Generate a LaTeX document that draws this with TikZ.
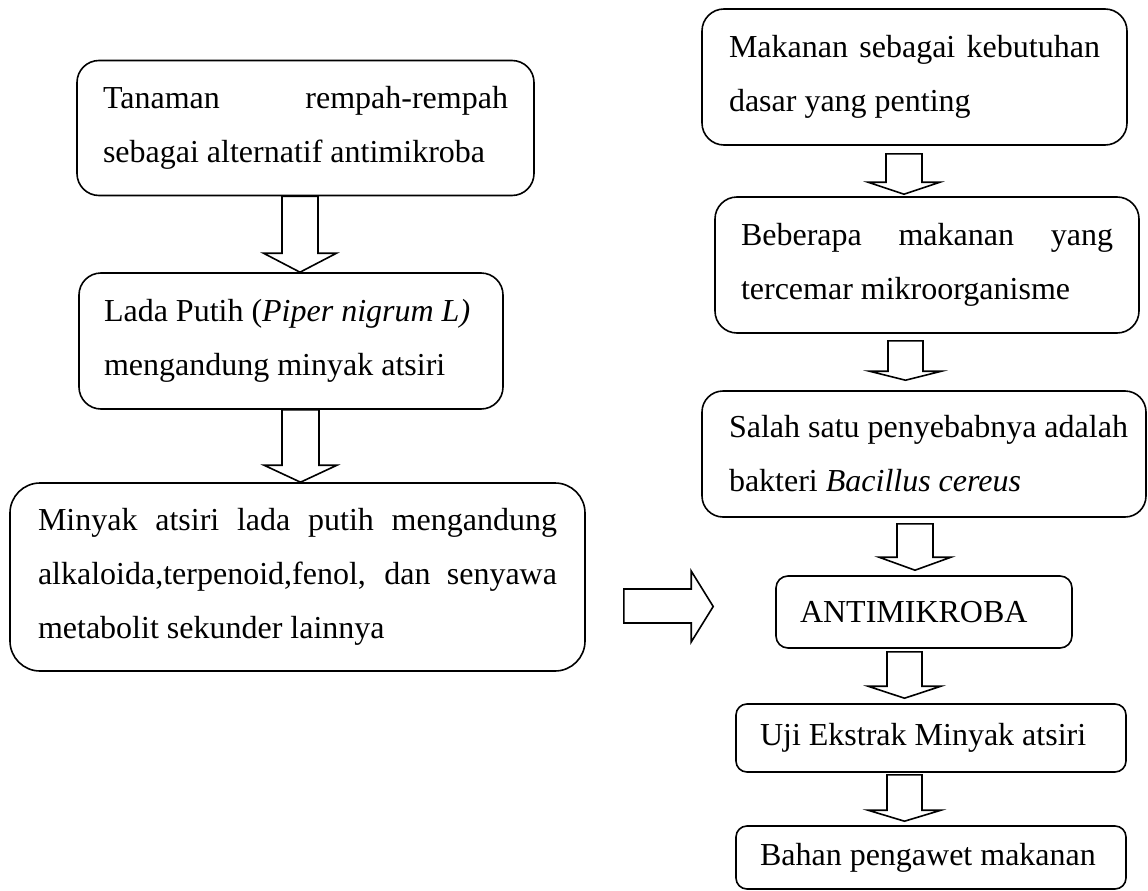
\documentclass[tikz,border=0pt]{standalone}
\usepackage{fontspec}
\setmainfont{Liberation Serif}
\usetikzlibrary{calc}
\newcommand{\jl}[2]{\makebox[#1pt][s]{#2}}
\newcommand{\nl}[2]{\makebox[#1pt][l]{#2}}
\newcommand{\downarr}[8]{%
  \draw[barrow] let \p1=(#1.south), \p2=(#2.north) in
   ({#3pt-#4pt},{\y1-#7pt}) -- ({#3pt-#4pt},{\y2+#8pt+#6pt}) --
   ({#3pt-#5pt},{\y2+#8pt+#6pt}) -- ({#3pt},{\y2+#8pt}) --
   ({#3pt+#5pt},{\y2+#8pt+#6pt}) -- ({#3pt+#4pt},{\y2+#8pt+#6pt}) --
   ({#3pt+#4pt},{\y1-#7pt}) -- cycle;}
\tikzset{
  rbox/.style={draw, line width=1.6pt, rectangle, inner ysep=0pt, align=left,
    font=\fontsize{32}{54}\selectfont},
  barrow/.style={draw, line width=1.6pt, line join=miter, fill=white}
}
\begin{document}
\begin{tikzpicture}[x=1pt,y=-1pt]
\useasboundingbox (0,0) rectangle (1148,891);
% left column
\node[rbox, minimum width=457pt, minimum height=135pt, inner xsep=26pt, rounded corners=22pt] (b1) at (305.5,128)
  {\jl{405}{Tanaman rempah-rempah}\\ \nl{405}{sebagai alternatif antimikroba}};
\node[rbox, minimum width=424pt, minimum height=136pt, inner xsep=25pt, rounded corners=22pt] (b2) at (291,341)
  {\nl{374}{Lada Putih (\textit{Piper nigrum L)}}\\ \nl{374}{mengandung minyak atsiri}};
\node[rbox, minimum width=575pt, minimum height=188pt, inner xsep=28pt, rounded corners=30pt] (b3) at (297.5,577)
  {\jl{519}{Minyak atsiri lada putih mengandung}\\ \jl{519}{alkaloida,terpenoid,fenol, dan senyawa}\\ \nl{519}{metabolit sekunder lainnya}};
% right column
\node[rbox, minimum width=425pt, minimum height=136pt, inner xsep=27pt, rounded corners=22pt] (r1) at (914.5,77)
  {\jl{371}{Makanan sebagai kebutuhan}\\ \nl{371}{dasar yang penting}};
\node[rbox, minimum width=424pt, minimum height=136pt, inner xsep=26pt, rounded corners=22pt] (r2) at (927,265)
  {\jl{372}{Beberapa makanan yang}\\ \nl{372}{tercemar mikroorganisme}};
\node[rbox, minimum width=444pt, minimum height=126pt, inner xsep=27pt, rounded corners=21pt] (r3) at (924,454)
  {\nl{390}{Salah satu penyebabnya adalah}\\ \nl{390}{bakteri \textit{Bacillus cereus}}};
\node[rbox, minimum width=296pt, minimum height=72pt, inner xsep=24pt, rounded corners=12pt] (r4) at (924,612)
  {\nl{248}{ANTIMIKROBA}};
\node[rbox, minimum width=390pt, minimum height=68pt, inner xsep=24pt, rounded corners=11pt] (r5) at (931,738)
  {\nl{342}{Uji Ekstrak Minyak atsiri}};
\node[rbox, minimum width=390pt, minimum height=63pt, inner xsep=24pt, rounded corners=11pt] (r6) at (931,857.5)
  {\nl{342}{Bahan pengawet makanan}};
% block arrows
\downarr{b1}{b2}{300}{18}{36.5}{19}{0}{0}
\downarr{b2}{b3}{300.5}{18.5}{36.5}{17}{0}{0}
\downarr{r1}{r2}{904}{18}{36}{12}{8}{2}
\downarr{r2}{r3}{905.5}{17.5}{36}{9}{7}{10}
\downarr{r3}{r4}{915}{18}{36}{13}{6}{5}
\downarr{r4}{r5}{904.5}{17.5}{36.5}{12}{3}{5}
\downarr{r5}{r6}{904.5}{17.5}{36.5}{11}{2}{4}
\draw[barrow] let \p1=(b3.east), \p2=(r4.west) in
  ({\x1+38pt},-589pt) -- ({\x2-84pt},-589pt) -- ({\x2-84pt},-571pt) --
  ({\x2-62pt},-606.5pt) -- ({\x2-84pt},-642pt) -- ({\x2-84pt},-623pt) --
  ({\x1+38pt},-623pt) -- cycle;
\end{tikzpicture}
\end{document}
